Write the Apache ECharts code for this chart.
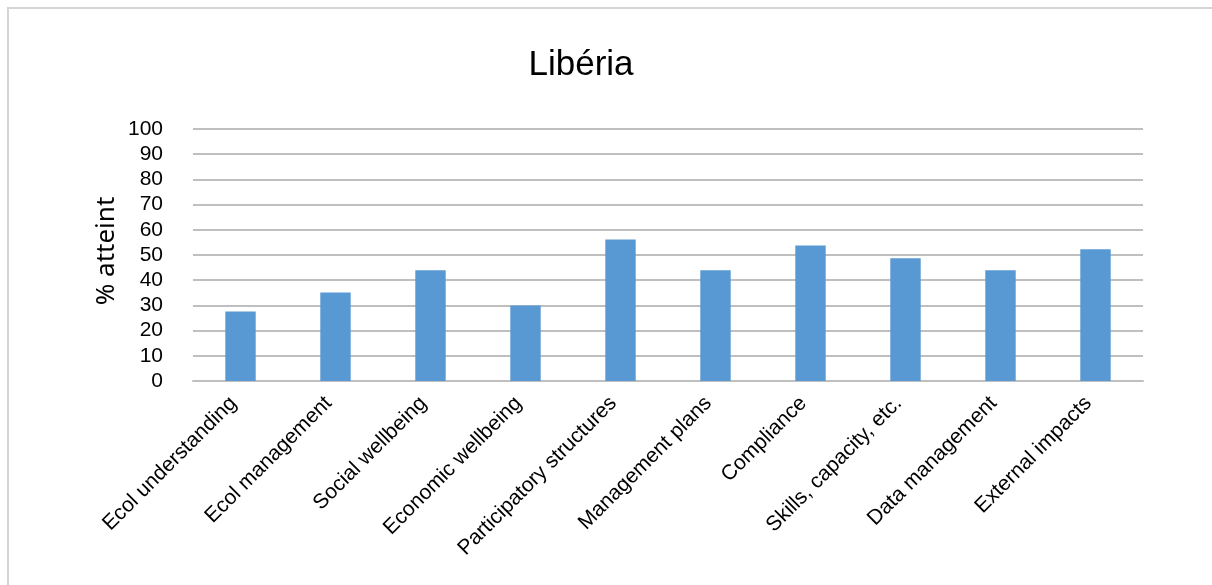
<!DOCTYPE html>
<html>
<head>
<meta charset="utf-8">
<script src="https://cdn.jsdelivr.net/npm/echarts@6/dist/echarts.min.js"></script>
<style>
  html, body { margin: 0; padding: 0; background: #ffffff; }
  #chart { width: 1212px; height: 585px; }
</style>
</head>
<body>
<div id="chart"></div>
<script>
// Categories along the x axis
const categories = [
  'Ecol understanding',
  'Ecol management',
  'Social wellbeing',
  'Economic wellbeing',
  'Participatory structures',
  'Management plans',
  'Compliance',
  'Skills, capacity, etc.',
  'Data management',
  'External impacts'
];

// Percentage attained per category
const attained = [27.6, 35.1, 43.9, 30.0, 56.2, 43.9, 53.8, 48.7, 43.9, 52.3];

const chartTitle = 'Libéria';
const yAxisName = '% atteint';

const font = '"Liberation Sans", Arial, Helvetica, sans-serif';
const chart = echarts.init(document.getElementById('chart'), null, { renderer: 'canvas' });

chart.setOption({
  backgroundColor: '#ffffff',
  animation: false,
  graphic: [
    {
      // frame around the chart area (top and left edges visible)
      type: 'rect',
      shape: { x: 8, y: 8, width: 1240, height: 640 },
      style: { fill: 'none', stroke: '#d4d4d4', lineWidth: 2 },
      silent: true
    },
    {
      // vertical axis title
      type: 'text',
      x: 107,
      y: 251,
      rotation: Math.PI / 2,
      style: {
        text: yAxisName,
        font: '26px "Noto Sans", "Open Sans", sans-serif',
        fill: '#000000',
        align: 'center',
        verticalAlign: 'middle'
      },
      silent: true
    }
  ],
  title: {
    text: chartTitle,
    left: 576,
    top: 43,
    textAlign: 'center',
    textStyle: { fontFamily: font, fontSize: 35, fontWeight: 'normal', color: '#000000' }
  },
  grid: { left: 193, right: 69, top: 129, bottom: 204, containLabel: false },
  xAxis: {
    type: 'category',
    data: categories,
    axisLine: { show: true, lineStyle: { color: '#bfbfbf', width: 2 } },
    axisTick: { show: false },
    axisLabel: {
      interval: 0,
      rotate: 45,
      margin: 12,
      padding: [0, 10, 0, 0],
      fontFamily: font,
      fontSize: 21,
      color: '#000000'
    }
  },
  yAxis: {
    type: 'value',
    min: 0,
    max: 100,
    interval: 10,
    axisLine: { show: false },
    axisTick: { show: false },
    axisLabel: { fontFamily: font, fontSize: 21, color: '#000000', margin: 30 },
    splitLine: { show: true, lineStyle: { color: '#bfbfbf', width: 2 } }
  },
  series: [{
    type: 'bar',
    data: attained,
    barWidth: '32%',
    itemStyle: { color: '#5898d3' }
  }]
});
</script>
</body>
</html>
